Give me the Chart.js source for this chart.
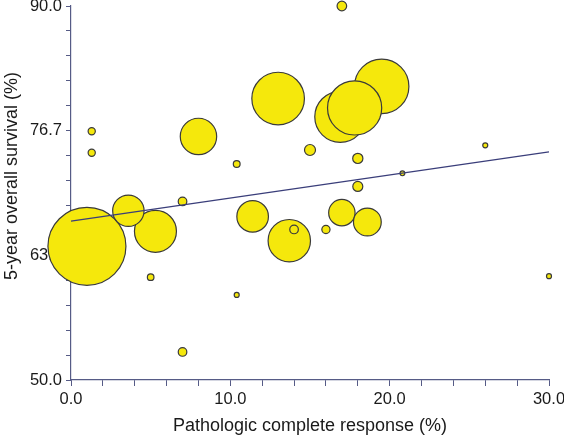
<!DOCTYPE html>
<html>
<head>
<meta charset="utf-8">
<script src="https://cdn.jsdelivr.net/npm/chart.js@4"></script>
<style>
html,body{margin:0;padding:0;background:#fff;}
canvas{display:block;}
</style>
</head>
<body>
<canvas id="c" width="564" height="437"></canvas>
<script>
// pCR (%) of each study
const studyPCR = [1.0, 5.3, 3.6, 5.0, 7.0, 7.0, 1.3, 1.3, 8.0, 17.0, 13.0, 19.5, 16.9, 17.8, 15.0, 10.4, 18.0, 18.0, 20.8, 26.0, 11.4, 13.7, 14.0, 16.0, 17.0, 18.6, 10.4, 30.0];
// 5-year overall survival (%) of each study
const studyOS = [64.3, 65.9, 68.1, 61.0, 53.0, 69.1, 76.6, 74.3, 76.05, 90.0, 80.1, 81.4, 78.15, 79.1, 74.6, 73.1, 73.7, 70.7, 72.1, 75.1, 67.5, 64.9, 66.1, 66.1, 67.9, 66.9, 59.1, 61.1];
// study weight shown as bubble radius
const studyWeight = [39, 21, 15.7, 3.3, 4.3, 4.3, 3.6, 3.6, 18.2, 4.8, 26.3, 27.2, 25.5, 27.1, 5.5, 3.4, 5.1, 5.0, 2.4, 2.5, 15.8, 21.2, 4.3, 4.1, 13.2, 13.9, 2.5, 2.5];
// meta-regression line
const fitX = [0, 30];
const fitY = [67.0, 74.4];
// tick labels
const xTickLabels = ['0.0', '10.0', '20.0', '30.0'];
const yTickLabels = ['50.0', '63.3', '76.7', '90.0'];
const xTitle = 'Pathologic complete response (%)';
const yTitle = '5-year overall survival (%)';

const axisColor = '#565b86';
const fontFamily = "'Liberation Sans', Arial, Helvetica, sans-serif";
const tickFont = {family: fontFamily, size: 16.5};
const titleFont = {family: fontFamily, size: 18};

const bubbles = studyPCR.map((x, i) => ({x: x, y: studyOS[i], r: studyWeight[i]}));
const fitLine = fitX.map((x, i) => ({x: x, y: fitY[i]}));

// y-axis title drawn slightly above the plot centre, as in the reference
const yTitlePlugin = {
  id: 'yTitle',
  afterDraw(chart) {
    const ctx = chart.ctx;
    const area = chart.chartArea;
    ctx.save();
    ctx.translate(12, (area.top + area.bottom) / 2 - 17);
    ctx.rotate(-Math.PI / 2);
    ctx.font = '18px ' + fontFamily;
    ctx.fillStyle = '#1a1a1a';
    ctx.textAlign = 'center';
    ctx.textBaseline = 'middle';
    ctx.fillText(yTitle, 0, 0);
    ctx.restore();
  }
};

new Chart(document.getElementById('c'), {
  type: 'bubble',
  data: {
    datasets: [
      {
        type: 'line',
        data: fitLine,
        borderColor: '#3a3e7a',
        borderWidth: 1.3,
        pointRadius: 0,
        fill: false,
        order: 0,
        clip: false
      },
      {
        type: 'bubble',
        data: bubbles,
        backgroundColor: '#f5e80c',
        borderColor: '#3a3a3a',
        borderWidth: 1.2,
        order: 1,
        clip: false
      }
    ]
  },
  plugins: [yTitlePlugin],
  options: {
    responsive: false,
    animation: false,
    events: [],
    layout: {autoPadding: false, padding: {top: 6, right: 15, left: 0, bottom: 0}},
    plugins: {legend: {display: false}, tooltip: {enabled: false}},
    scales: {
      x: {
        type: 'linear',
        min: 0, max: 30,
        afterFit: s => { s.height = 57; s.paddingLeft = 0; s.paddingRight = 0; },
        ticks: {
          stepSize: 2,
          autoSkip: false,
          maxRotation: 0,
          padding: 4,
          color: '#1a1a1a',
          font: tickFont,
          callback: v => (Math.abs(v % 10) < 1e-9 ? xTickLabels[Math.round(v / 10)] : '')
        },
        grid: {display: true, drawOnChartArea: false, drawTicks: true, tickLength: 6, color: axisColor, lineWidth: 1},
        border: {display: true, color: axisColor, width: 1.2},
        title: {display: true, text: xTitle, color: '#1a1a1a', font: titleFont, padding: {top: 5, bottom: 0}}
      },
      y: {
        type: 'linear',
        min: 50, max: 90,
        afterFit: s => { s.width = 71; s.paddingTop = 0; s.paddingBottom = 0; },
        afterBuildTicks: s => {
          s.ticks = Array.from({length: 16}, (_, k) => ({value: 50 + k * 40 / 15}));
        },
        ticks: {
          autoSkip: false,
          padding: 4,
          color: '#1a1a1a',
          font: tickFont,
          callback: (v, i) => (i % 5 === 0 ? yTickLabels[i / 5] : '')
        },
        grid: {display: true, drawOnChartArea: false, drawTicks: true, tickLength: 5, color: axisColor, lineWidth: 1},
        border: {display: true, color: axisColor, width: 1.2},
        title: {display: false, text: yTitle}
      }
    }
  }
});
</script>
</body>
</html>
